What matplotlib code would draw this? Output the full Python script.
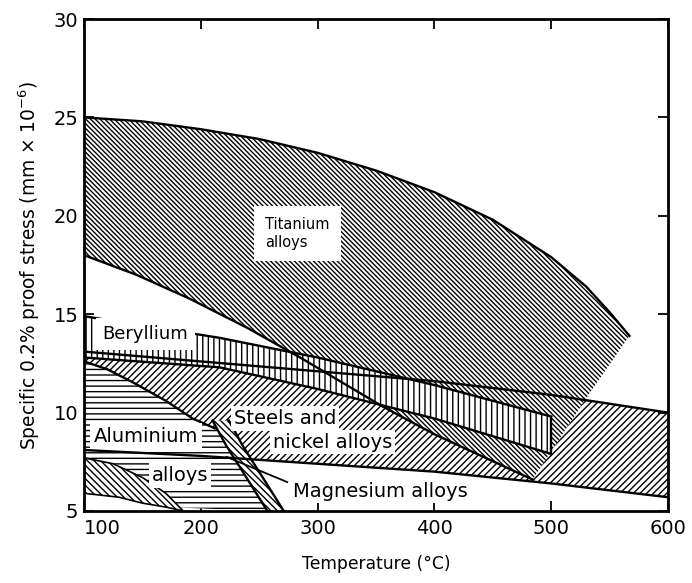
import numpy as np
import matplotlib
matplotlib.use("Agg")
import matplotlib.pyplot as plt

plt.rcParams['font.family'] = ['DejaVu Sans']
plt.rcParams['hatch.linewidth'] = 1.0

# --- data (temperature degC, specific stress) ---
ti_T_up = [100, 150, 200, 250, 300, 350, 400, 450, 500, 530, 550, 567]
ti_S_up = [25.0, 24.8, 24.4, 23.9, 23.2, 22.3, 21.2, 19.8, 17.9, 16.4, 15.1, 13.9]
ti_T_edge = [567, 533, 484]
ti_S_edge = [13.9, 11.0, 6.6]
ti_T_lo = [100, 145, 190, 240, 285, 356, 400, 484]
ti_S_lo = [18.0, 17.0, 15.8, 14.3, 12.8, 10.3, 8.9, 6.6]

be_T = [100, 216, 300, 400, 500]
be_S_up = [14.9, 13.8, 12.8, 11.4, 9.8]
be_S_lo = [12.8, 12.3, 11.2, 9.7, 7.9]

st_T = [100, 200, 300, 400, 500, 600]
st_S_up = [13.1, 12.6, 12.1, 11.6, 10.9, 10.0]
st_S_lo = [8.1, 7.8, 7.4, 7.0, 6.4, 5.7]

al_T = [100, 120, 143, 170, 193, 212, 225, 240, 257, 170, 150, 130, 100]
al_S = [12.6, 12.2, 11.5, 10.6, 9.7, 9.2, 8.2, 6.8, 5.0, 5.2, 5.4, 5.7, 5.9]

mg1_T = [100, 125, 150, 170, 185, 170, 150, 130, 100]
mg1_S = [7.7, 7.4, 6.7, 5.9, 5.0, 5.2, 5.4, 5.7, 5.9]
mg2_T_left = [210, 222, 238, 257]
mg2_T_right = [224, 236, 252, 271]
mg2_S = [9.6, 8.3, 6.8, 5.0]

pointer_T = [222, 274]
pointer_S = [7.75, 6.47]

labels = [
    ("Titanium\nalloys", 255, 19.1, 'left', 10.5, 8),
    ("Beryllium", 116, 14.0, 'left', 13, 5),
    ("Steels and", 272, 9.7, 'center', 14, 2),
    ("nickel alloys", 313, 8.5, 'center', 14, 2),
    ("Aluminium", 153, 8.8, 'center', 14, 2.5),
    ("alloys", 182, 6.8, 'center', 14, 2),
    ("Magnesium alloys", 354, 6.0, 'center', 14, 1.5),
]

fig = plt.figure(figsize=(6.92, 5.83), dpi=100)
ax = fig.add_axes([0.1214, 0.1235, 0.8439, 0.8439])

# steels and nickel alloys (bottom layer)
ax.fill_between(st_T, st_S_lo, st_S_up, facecolor='white', edgecolor='black',
                hatch='/////', linewidth=0, zorder=1)
# titanium alloys
ax.fill(ti_T_up + ti_T_edge[1:] + ti_T_lo[::-1][1:],
        ti_S_up + ti_S_edge[1:] + ti_S_lo[::-1][1:],
        facecolor='white', edgecolor='black', hatch='\\' * 7,
        linewidth=0, zorder=2)
# aluminium alloys
ax.fill(al_T, al_S, facecolor='white', edgecolor='black', hatch='---',
        linewidth=0, zorder=2.5)
# magnesium alloys
ax.fill(mg1_T, mg1_S, facecolor='white', edgecolor='black', hatch='\\' * 5,
        linewidth=1.2, zorder=3)
ax.fill(mg2_T_left + mg2_T_right[::-1], mg2_S + mg2_S[::-1],
        facecolor='white', edgecolor='black', hatch='\\' * 5,
        linewidth=0, zorder=3)
# beryllium
ax.fill_between(be_T, be_S_lo, be_S_up, facecolor='white', edgecolor='black',
                hatch='|||', linewidth=0, zorder=3.2)

# boundary lines drawn over the fills
line_kw = dict(color='black', lw=1.7, zorder=4)
ax.plot(ti_T_up, ti_S_up, **line_kw)
ax.plot(ti_T_lo, ti_S_lo, **line_kw)
ax.plot(st_T, st_S_up, **line_kw)
ax.plot(st_T, st_S_lo, **line_kw)
ax.plot(be_T, be_S_up, **line_kw)
ax.plot(be_T, be_S_lo, **line_kw)
ax.plot([be_T[-1]] * 2, [be_S_lo[-1], be_S_up[-1]], **line_kw)
ax.plot(al_T[:6], al_S[:6], **line_kw)
ax.plot(mg2_T_left, mg2_S, **line_kw)
ax.plot(mg2_T_right, mg2_S, **line_kw)
ax.plot(pointer_T, pointer_S, color='black', lw=1.3, zorder=4)

for txt, x, y, ha, fs, pad in labels:
    ax.text(x, y, txt, fontsize=fs, ha=ha, va='center', zorder=6,
            linespacing=1.2,
            bbox=dict(facecolor='white', edgecolor='none', pad=pad))

ax.set_xlim(100, 600)
ax.set_ylim(5, 30)
ax.set_xticks([100, 200, 300, 400, 500, 600])
ax.set_yticks([5, 10, 15, 20, 25, 30])
ax.tick_params(direction='in', length=7, width=1.3, labelsize=14,
               top=True, right=True)
ax.tick_params(axis='x', pad=6)
ax.tick_params(axis='y', pad=4)
ax.get_xticklabels()[0].set_ha('left')
for sp in ax.spines.values():
    sp.set_linewidth(2)
    sp.set_zorder(7)

ax.set_xlabel('Temperature (°C)', fontsize=12.3, labelpad=12)
ax.set_ylabel(r'Specific 0.2% proof stress (mm $\times$ 10$^{-6}$)',
              fontsize=13.4, labelpad=8)

fig.savefig('out.png', dpi=100)
